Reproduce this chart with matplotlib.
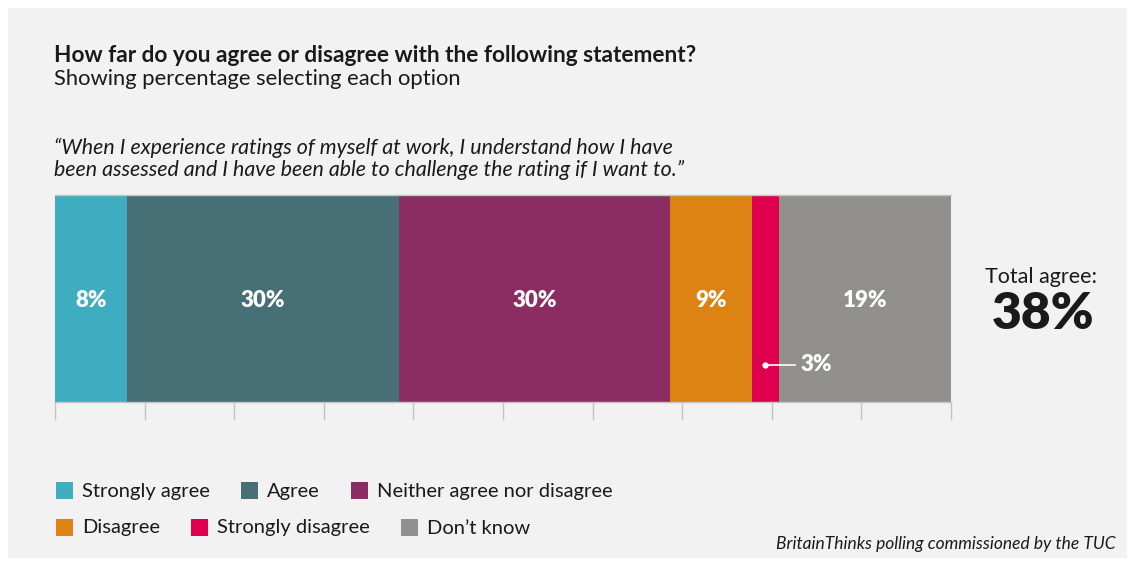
import matplotlib
matplotlib.use("Agg")
import matplotlib.pyplot as plt
from matplotlib.patches import Rectangle
import numpy as np

W, H = 1135, 562

categories = ["Strongly agree", "Agree", "Neither agree nor disagree",
              "Disagree", "Strongly disagree", "Don\u2019t know"]
values = [8, 30, 30, 9, 3, 19]
colors = ["#3eadbf", "#467076", "#8b2d63", "#dc8314", "#de004f", "#91908c"]
legend_rows = [[0, 1, 2], [3, 4, 5]]
total_agree = values[0] + values[1]

title = "How far do you agree or disagree with the following statement?"
subtitle = "Showing percentage selecting each option"
quote = ("\u201cWhen I experience ratings of myself at work, I understand how I have\n"
         "been assessed and I have been able to challenge the rating if I want to.\u201d")
source = "BritainThinks polling commissioned by the TUC"

plt.rcParams["font.family"] = ["Lato", "DejaVu Sans"]
TXT = "#1a1a1a"


def fx(px):
    return px / W


def fy(py):
    return 1 - py / H


fig = plt.figure(figsize=(W / 100, H / 100), dpi=100, facecolor="white")
fig.patches.append(Rectangle((fx(8), fy(558)), fx(1127) - fx(8), fy(8) - fy(558),
                             transform=fig.transFigure, facecolor="#f2f2f2",
                             edgecolor="none", zorder=-5))

fig.text(fx(54), fy(55), title, fontsize=16.3, fontweight="bold", color=TXT, va="center")
fig.text(fx(54), fy(79), subtitle, fontsize=15.8, color=TXT, va="center")
fig.text(fx(54), fy(159), quote, fontsize=15.4, style="italic", color=TXT,
         va="center", linespacing=1.15)

# stacked bar
ax = fig.add_axes([fx(55), fy(402), fx(951) - fx(55), fy(195) - fy(402)])
ax.set_facecolor("none")
total = sum(values)
lefts = np.cumsum([0] + values[:-1])
ax.barh(0.5, values, left=lefts, height=1, color=colors, edgecolor="none", zorder=2)
ax.set_xlim(0, total)
ax.set_ylim(0, 1)
for v, l in zip(values, lefts):
    if v >= 5:
        ax.text(l + v / 2, 0.49, f"{v}%", ha="center", va="center", color="white",
                fontsize=16, fontweight="heavy", zorder=3)

# small callout for the thin segment
i = 4
xc = lefts[i] + values[i] / 2
ax.plot([xc, xc + 3.3], [0.18, 0.18], color="white", lw=1.2, zorder=3)
ax.plot([xc], [0.18], marker="o", ms=3.5, color="white", zorder=3)
ax.text(xc + 3.9, 0.18, f"{values[i]}%", ha="left", va="center", color="white",
        fontsize=16, fontweight="heavy", zorder=3)

ax.set_xticks(np.linspace(0, total, 11))
ax.set_xticklabels([])
ax.set_yticks([])
ax.tick_params(axis="x", length=13, width=1, color="#c4c4c4")
for s in ["left", "right"]:
    ax.spines[s].set_visible(False)
for s in ["top", "bottom"]:
    ax.spines[s].set_color("#c4c4c4")
    ax.spines[s].set_linewidth(1)

fig.text(fx(1041), fy(277), "Total agree:", fontsize=15.5, color=TXT, ha="center", va="center")
fig.text(fx(1043), fy(314), f"{total_agree}%", fontsize=37, fontweight="heavy",
         color=TXT, ha="center", va="center")

# legend laid out as flowing rows
fig.canvas.draw()
renderer = fig.canvas.get_renderer()
row_y = [491, 528]
for row, py in zip(legend_rows, row_y):
    px = 56
    for idx in row:
        fig.patches.append(Rectangle((fx(px), fy(py + 8)), fx(17), 17 / H,
                                     transform=fig.transFigure, facecolor=colors[idx],
                                     edgecolor="none"))
        t = fig.text(fx(px + 26), fy(py), categories[idx], fontsize=14.5, color=TXT,
                     va="center", ha="left")
        bb = t.get_window_extent(renderer)
        px = bb.x1 + 31

fig.text(fx(1116), fy(544), source, fontsize=12.5, style="italic", color=TXT,
         ha="right", va="center")

fig.savefig("out.png", dpi=100, facecolor="white")
